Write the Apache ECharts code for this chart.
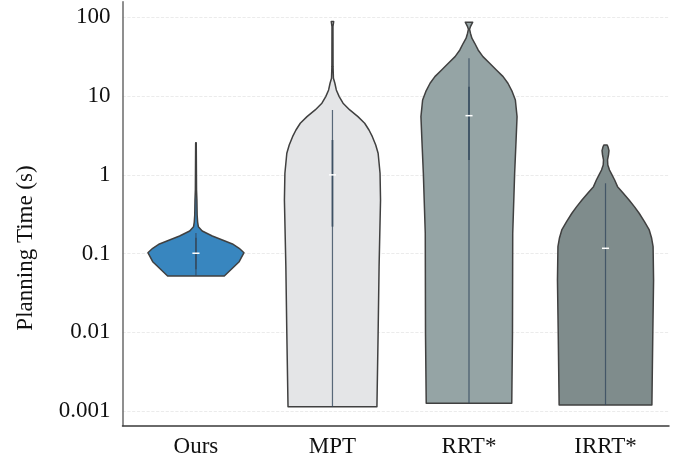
<!DOCTYPE html>
<html>
<head>
<meta charset="utf-8">
<script src="https://cdn.jsdelivr.net/npm/echarts@6/dist/echarts.min.js"></script>
<style>
  html, body { margin: 0; padding: 0; background: #ffffff; }
  #chart { width: 686px; height: 464px; }
</style>
</head>
<body>
<div id="chart"></div>
<script>
// Planners compared
const methods = ['Ours', 'MPT', 'RRT*', 'IRRT*'];
const fills = ['#3886bf', '#e4e5e7', '#95a4a5', '#7f8c8c'];

// Y axis works in log10(seconds)
const yTickValues = [-3, -2, -1, 0, 1, 2];
const yTickLabels = ['0.001', '0.01', '0.1', '1', '10', '100'];

// Density profiles: log10(time) levels from bottom to top, with relative half-widths
const oursLevels = [-1.285, -1.103, -0.989, -0.933, -0.878, -0.827, -0.777, -0.713, -0.658, -0.60, -0.51, -0.319, -0.19, 0.409];
const oursWidths = [0.59, 0.90, 1.00, 0.90, 0.76, 0.55, 0.34, 0.13, 0.05, 0.035, 0.025, 0.02, 0.012, 0.006];

const mptLevels = [-2.945, -2.013, -1.166, -0.319, 0.02, 0.274, 0.38, 0.485, 0.57, 0.656, 0.74, 0.825, 0.91, 0.994, 1.079, 1.164, 1.227, 1.375, 1.883, 1.947];
const mptWidths = [0.925, 0.95, 0.97, 1.00, 0.99, 0.95, 0.90, 0.83, 0.76, 0.67, 0.53, 0.36, 0.22, 0.14, 0.08, 0.05, 0.02, 0.012, 0.01, 0.025];

const rrtLevels = [-2.902, -2.013, -0.742, 0.02, 0.443, 0.74, 0.951, 1.057, 1.164, 1.248, 1.333, 1.418, 1.502, 1.587, 1.672, 1.736, 1.80, 1.85, 1.883, 1.939];
const rrtWidths = [0.89, 0.905, 0.91, 0.95, 0.98, 1.00, 0.965, 0.90, 0.81, 0.71, 0.57, 0.43, 0.29, 0.19, 0.12, 0.06, 0.03, 0.012, 0.03, 0.077];

const irrtLevels = [-2.924, -1.971, -1.335, -0.912, -0.806, -0.70, -0.595, -0.488, -0.404, -0.319, -0.234, -0.15, -0.065, -0.001, 0.062, 0.126, 0.189, 0.253, 0.307, 0.35, 0.38];
const irrtWidths = [0.965, 0.985, 1.00, 0.99, 0.96, 0.91, 0.81, 0.70, 0.60, 0.49, 0.37, 0.25, 0.19, 0.135, 0.083, 0.048, 0.042, 0.062, 0.072, 0.055, 0.035];

// Inner box statistics, log10(seconds): [whisker low, q1, median, q3, whisker high]
const oursBox = [-1.285, -1.2, -0.996, -0.8, -0.74];
const mptBox  = [-2.945, -0.658, 0.0, 0.443, 0.825];
const rrtBox  = [-2.902, 0.19, 0.752, 1.12, 1.48];
const irrtBox = [-2.924, -0.933, -0.933, -0.933, -0.107];

const profiles = [
  { levels: oursLevels, widths: oursWidths, box: oursBox },
  { levels: mptLevels, widths: mptWidths, box: mptBox },
  { levels: rrtLevels, widths: rrtWidths, box: rrtBox },
  { levels: irrtLevels, widths: irrtWidths, box: irrtBox }
];

const HALF_WIDTH = 0.352;   // widest half-violin, in category units
const MEDIAN_HALF = 0.026;

function renderViolin(params, api) {
  const i = api.value(0);
  const p = profiles[i];
  const left = [];
  const right = [];
  for (let k = 0; k < p.levels.length; k++) {
    const w = p.widths[k] * HALF_WIDTH;
    left.push(api.coord([i - w, p.levels[k]]));
    right.unshift(api.coord([i + w, p.levels[k]]));
  }
  const b = p.box;
  const c = (v) => api.coord([i, v]);
  const children = [
    {
      type: 'polygon',
      shape: { points: left.concat(right) },
      style: { fill: fills[i], stroke: '#404040', lineWidth: 1.5, lineJoin: 'round' }
    },
    {
      type: 'line',
      shape: { x1: c(b[0])[0], y1: c(b[0])[1], x2: c(b[4])[0], y2: c(b[4])[1] },
      style: { stroke: '#34495e', lineWidth: 1.2, opacity: 0.8 }
    }
  ];
  if (b[3] > b[1]) {
    children.push({
      type: 'line',
      shape: { x1: c(b[1])[0], y1: c(b[1])[1], x2: c(b[3])[0], y2: c(b[3])[1] },
      style: { stroke: '#34495e', lineWidth: 1.9, opacity: 0.75 }
    });
  }
  const m0 = api.coord([i - MEDIAN_HALF, b[2]]);
  const m1 = api.coord([i + MEDIAN_HALF, b[2]]);
  children.push({
    type: 'line',
    shape: { x1: m0[0], y1: m0[1], x2: m1[0], y2: m1[1] },
    style: { stroke: '#ffffff', lineWidth: 1.5 }
  });
  return { type: 'group', children: children };
}

const FONT = '"Liberation Serif", "Times New Roman", serif';
const FONT_SIZE = 23;

const chart = echarts.init(document.getElementById('chart'), null, { renderer: 'canvas' });
chart.setOption({
  animation: false,
  backgroundColor: '#ffffff',
  grid: { left: 122.5, right: 17, top: 1.7, bottom: 38.3, containLabel: false, outerBoundsMode: 'none' },
  xAxis: {
    type: 'value',
    min: -0.538,
    max: 3.465,
    axisLine: { show: true, onZero: false, lineStyle: { color: '#3a3a3a', width: 1.5 } },
    axisTick: { show: false, customValues: [0, 1, 2, 3] },
    splitLine: { show: false },
    axisLabel: {
      customValues: [0, 1, 2, 3],
      formatter: (v) => methods[v],
      margin: 10,
      fontFamily: FONT,
      fontSize: FONT_SIZE,
      color: '#111111'
    }
  },
  yAxis: {
    type: 'value',
    min: -3.187,
    max: 2.2,
    axisLine: { show: true, onZero: false, lineStyle: { color: '#6a6a6a', width: 1.5 } },
    axisTick: { show: false, customValues: yTickValues },
    splitLine: { show: true, lineStyle: { color: '#e6e6e6', type: 'dashed', width: 0.8 } },
    axisLabel: {
      customValues: yTickValues,
      formatter: (v) => yTickLabels[yTickValues.indexOf(v)],
      margin: 12,
      fontFamily: FONT,
      fontSize: FONT_SIZE,
      color: '#111111'
    }
  },
  graphic: [{
    type: 'text',
    x: 26,
    y: 248,
    rotation: Math.PI / 2,
    style: {
      text: 'Planning Time (s)',
      font: FONT_SIZE + 'px ' + FONT,
      fill: '#111111',
      align: 'center',
      verticalAlign: 'middle'
    }
  }],
  series: [{
    type: 'custom',
    renderItem: renderViolin,
    clip: false,
    data: methods.map((m, i) => [i])
  }]
});
</script>
</body>
</html>
